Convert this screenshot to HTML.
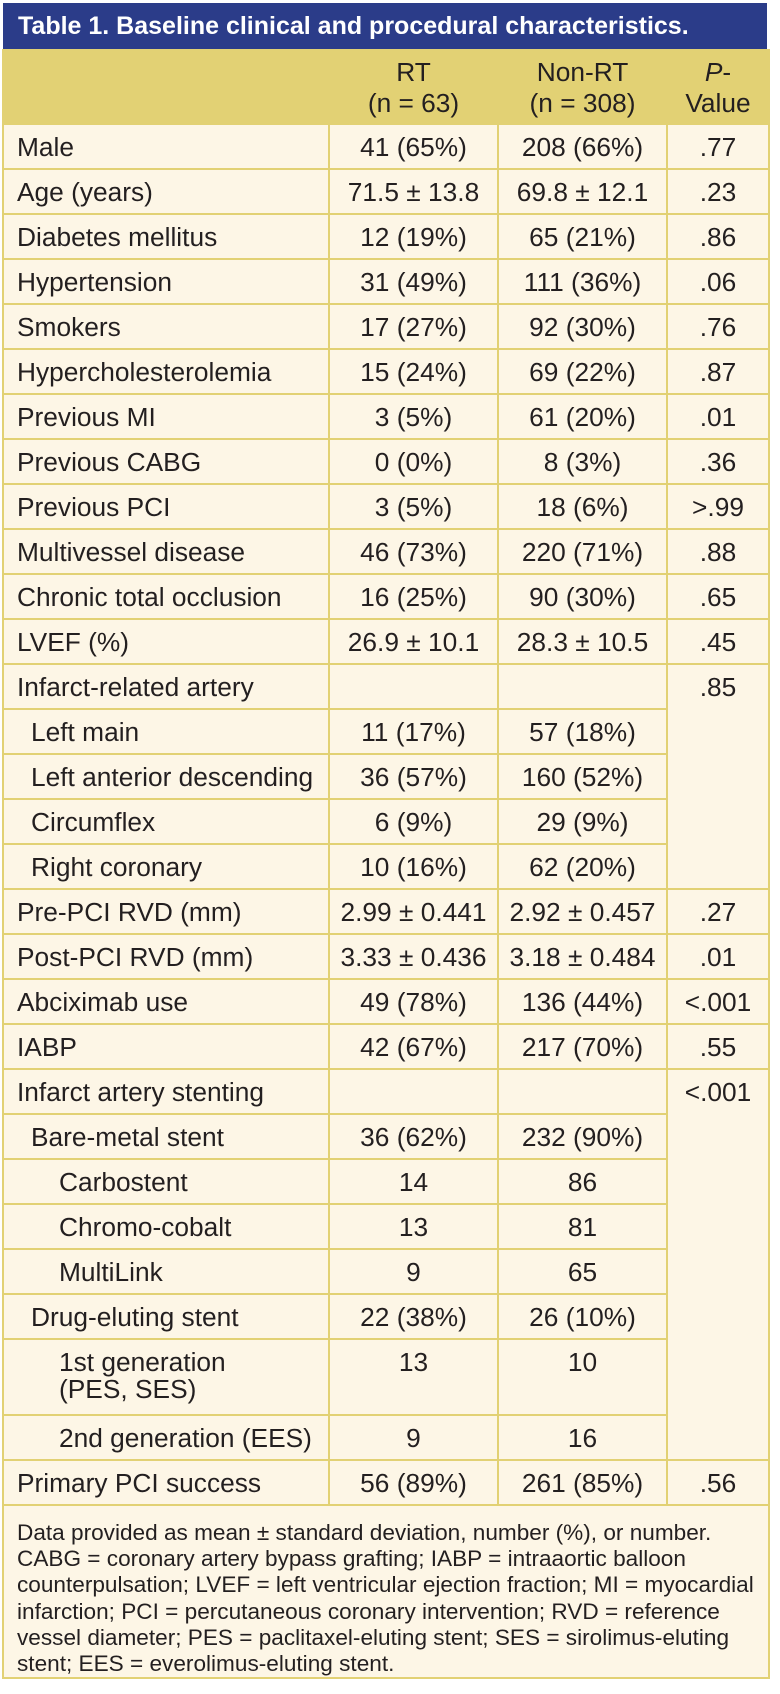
<!DOCTYPE html>
<html><head><meta charset="utf-8"><style>
body{margin:0;background:#fff;width:780px;height:1694px;position:relative;font-family:"Liberation Sans",sans-serif;color:#231f20;}
.title{position:absolute;left:3px;top:3px;width:764px;height:46px;background:#2b3c89;color:#fff;font-weight:bold;font-size:25px;line-height:46px;box-sizing:border-box;padding-left:15px;}
table{position:absolute;left:2px;top:49px;border-collapse:collapse;table-layout:fixed;width:766px;font-size:26.3px;}
td{border:2px solid #e2d174;background:#fdf6e6;height:43px;padding:0;text-align:center;vertical-align:middle;line-height:26px;white-space:nowrap;}
td.l{text-align:left;padding-left:13px;}
td.i1{padding-left:27px;}
td.i2{padding-left:55px;}
tr.h td{background:#e2d174;height:70px;line-height:31px;padding-top:2px;}
td.top{vertical-align:top;padding-top:9px;}
tr.d td{height:65px;line-height:27px;}
td.f{text-align:left;padding:14px 13px 0 13px;font-size:22.6px;line-height:26.2px;height:156px;vertical-align:top;}
</style></head><body>
<div class="title">Table 1. Baseline clinical and procedural characteristics.</div>
<table>
<colgroup><col style="width:326px"><col style="width:169px"><col style="width:169px"><col style="width:102px"></colgroup>
<tr class="h"><td></td><td>RT<br>(n = 63)</td><td>Non-RT<br>(n = 308)</td><td><i>P</i>-<br>Value</td></tr>
<tr><td class="l">Male</td><td>41 (65%)</td><td>208 (66%)</td><td>.77</td></tr>
<tr><td class="l">Age (years)</td><td>71.5 ± 13.8</td><td>69.8 ± 12.1</td><td>.23</td></tr>
<tr><td class="l">Diabetes mellitus</td><td>12 (19%)</td><td>65 (21%)</td><td>.86</td></tr>
<tr><td class="l">Hypertension</td><td>31 (49%)</td><td>111 (36%)</td><td>.06</td></tr>
<tr><td class="l">Smokers</td><td>17 (27%)</td><td>92 (30%)</td><td>.76</td></tr>
<tr><td class="l">Hypercholesterolemia</td><td>15 (24%)</td><td>69 (22%)</td><td>.87</td></tr>
<tr><td class="l">Previous MI</td><td>3 (5%)</td><td>61 (20%)</td><td>.01</td></tr>
<tr><td class="l">Previous CABG</td><td>0 (0%)</td><td>8 (3%)</td><td>.36</td></tr>
<tr><td class="l">Previous PCI</td><td>3 (5%)</td><td>18 (6%)</td><td>&gt;.99</td></tr>
<tr><td class="l">Multivessel disease</td><td>46 (73%)</td><td>220 (71%)</td><td>.88</td></tr>
<tr><td class="l">Chronic total occlusion</td><td>16 (25%)</td><td>90 (30%)</td><td>.65</td></tr>
<tr><td class="l">LVEF (%)</td><td>26.9 ± 10.1</td><td>28.3 ± 10.5</td><td>.45</td></tr>
<tr><td class="l">Infarct-related artery</td><td></td><td></td><td class="top" rowspan="5">.85</td></tr>
<tr><td class="l i1">Left main</td><td>11 (17%)</td><td>57 (18%)</td></tr>
<tr><td class="l i1">Left anterior descending</td><td>36 (57%)</td><td>160 (52%)</td></tr>
<tr><td class="l i1">Circumflex</td><td>6 (9%)</td><td>29 (9%)</td></tr>
<tr><td class="l i1">Right coronary</td><td>10 (16%)</td><td>62 (20%)</td></tr>
<tr><td class="l">Pre-PCI RVD (mm)</td><td>2.99 ± 0.441</td><td>2.92 ± 0.457</td><td>.27</td></tr>
<tr><td class="l">Post-PCI RVD (mm)</td><td>3.33 ± 0.436</td><td>3.18 ± 0.484</td><td>.01</td></tr>
<tr><td class="l">Abciximab use</td><td>49 (78%)</td><td>136 (44%)</td><td>&lt;.001</td></tr>
<tr><td class="l">IABP</td><td>42 (67%)</td><td>217 (70%)</td><td>.55</td></tr>
<tr><td class="l">Infarct artery stenting</td><td></td><td></td><td class="top" rowspan="8">&lt;.001</td></tr>
<tr><td class="l i1">Bare-metal stent</td><td>36 (62%)</td><td>232 (90%)</td></tr>
<tr><td class="l i2">Carbostent</td><td>14</td><td>86</td></tr>
<tr><td class="l i2">Chromo-cobalt</td><td>13</td><td>81</td></tr>
<tr><td class="l i2">MultiLink</td><td>9</td><td>65</td></tr>
<tr><td class="l i1">Drug-eluting stent</td><td>22 (38%)</td><td>26 (10%)</td></tr>
<tr class="d"><td class="l i2 top">1st generation<br>(PES, SES)</td><td class="top">13</td><td class="top">10</td></tr>
<tr><td class="l i2">2nd generation (EES)</td><td>9</td><td>16</td></tr>
<tr><td class="l">Primary PCI success</td><td>56 (89%)</td><td>261 (85%)</td><td>.56</td></tr>
<tr><td class="f" colspan="4">Data provided as mean ± standard deviation, number (%), or number.<br>CABG = coronary artery bypass grafting; IABP = intraaortic balloon<br>counterpulsation; LVEF = left ventricular ejection fraction; MI = myocardial<br>infarction; PCI = percutaneous coronary intervention; RVD = reference<br>vessel diameter; PES = paclitaxel-eluting stent; SES = sirolimus-eluting<br>stent; EES = everolimus-eluting stent.</td></tr>
</table>
</body></html>
